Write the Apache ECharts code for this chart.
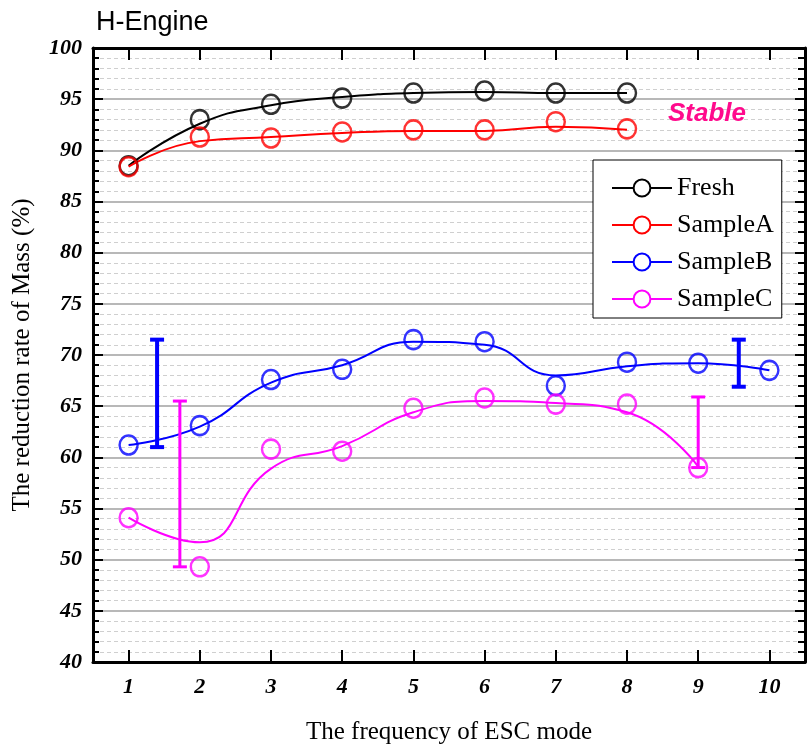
<!DOCTYPE html>
<html>
<head>
<meta charset="utf-8">
<script src="https://cdn.jsdelivr.net/npm/echarts@6/dist/echarts.min.js"></script>
<style>
  html, body { margin: 0; padding: 0; background: #fff; }
  #chart { width: 807px; height: 751px; }
</style>
</head>
<body>
<div id="chart"></div>
<script>
// measured points
const xTicks = [1, 2, 3, 4, 5, 6, 7, 8, 9, 10];
const freshY = [88.5, 93.0, 94.5, 95.1, 95.6, 95.8, 95.6, 95.6];
const sampleAY = [88.4, 91.3, 91.2, 91.8, 92.0, 92.0, 92.8, 92.1];
const sampleBY = [61.2, 63.1, 67.6, 68.6, 71.5, 71.3, 67.0, 69.3, 69.2, 68.5];
const sampleCY = [54.1, 49.3, 60.8, 60.6, 64.8, 65.8, 65.2, 65.2, 59.0];

// fitted curves (at each x)
const freshFit = [88.5, 92.6, 94.4, 95.2, 95.6, 95.7, 95.6, 95.6];
const sampleAFit = [88.4, 90.9, 91.3, 91.7, 91.9, 91.9, 92.3, 92.0];
const sampleBFit = [61.2, 63.0, 67.3, 69.0, 71.3, 71.0, 68.0, 68.9, 69.2, 68.5];
const sampleCFit = [54.1, 51.7, 58.9, 61.1, 64.4, 65.5, 65.3, 64.4, 59.1];

// error bars
const sampleBErrX = [1.4, 9.57];
const sampleBErrLow = [61.0, 66.9];
const sampleBErrHigh = [71.5, 71.5];
const sampleCErrX = [1.72, 9.0];
const sampleCErrLow = [49.3, 59.0];
const sampleCErrHigh = [65.5, 65.9];

const yTickLabels = [40, 45, 50, 55, 60, 65, 70, 75, 80, 85, 90, 95, 100];

const pairs = (ys) => ys.map((v, i) => [xTicks[i], v]);

const chart = echarts.init(document.getElementById('chart'));

function fitSeries(name, color, fit) {
  return {
    name: name,
    type: 'line',
    data: pairs(fit),
    smooth: 0.5,
    symbol: 'emptyCircle',
    symbolSize: 18,
    showSymbol: false,
    lineStyle: { color: color, width: 2 },
    itemStyle: { color: color, borderWidth: 2 },
    z: 3
  };
}

function pointSeries(name, color, ys) {
  return {
    name: name,
    type: 'scatter',
    data: pairs(ys),
    symbol: 'circle',
    symbolSize: [18, 19],
    itemStyle: { color: 'rgba(0,0,0,0)', borderColor: color, borderWidth: 2.5 },
    z: 4
  };
}

function errSeries(name, color, xs, lows, highs, width) {
  return {
    name: name,
    type: 'custom',
    data: xs.map((x, i) => [x, lows[i], highs[i]]),
    renderItem: function (params, api) {
      const lo = api.coord([api.value(0), api.value(1)]);
      const hi = api.coord([api.value(0), api.value(2)]);
      const hw = 7;
      const style = { stroke: color, lineWidth: width };
      return {
        type: 'group',
        children: [
          { type: 'line', shape: { x1: lo[0], y1: lo[1], x2: hi[0], y2: hi[1] }, style: style },
          { type: 'line', shape: { x1: lo[0] - hw, y1: lo[1], x2: lo[0] + hw, y2: lo[1] }, style: style },
          { type: 'line', shape: { x1: hi[0] - hw, y1: hi[1], x2: hi[0] + hw, y2: hi[1] }, style: style }
        ]
      };
    },
    z: 5
  };
}

const serifAxisLabel = {
  fontFamily: 'Liberation Serif',
  fontWeight: 'bold',
  fontStyle: 'italic',
  fontSize: 22,
  color: '#000'
};

chart.setOption({
  animation: false,
  backgroundColor: '#fff',
  title: {
    text: 'H-Engine',
    left: 91,
    top: 4,
    textStyle: { fontFamily: 'Liberation Sans', fontWeight: 'normal', fontSize: 27, color: '#000' }
  },
  graphic: [{
    type: 'text',
    left: 668,
    top: 101,
    style: {
      text: 'Stable',
      fontFamily: 'Liberation Sans',
      fontWeight: 'bold',
      fontStyle: 'italic',
      fontSize: 26,
      fill: '#ff0a8c'
    },
    z: 10
  }],
  legend: {
    data: ['Fresh', 'SampleA', 'SampleB', 'SampleC'],
    orient: 'vertical',
    left: 593,
    top: 160,
    padding: [15, 8, 6, 18],
    itemWidth: 60,
    itemHeight: 21,
    itemGap: 11,
    backgroundColor: '#fff',
    borderColor: '#000',
    borderWidth: 1,
    borderRadius: 0,
    textStyle: { fontFamily: 'Liberation Serif', fontSize: 26, color: '#000', padding: [0, 0, 0, 0] }
  },
  grid: { left: 93, right: 2, top: 48, bottom: 89 },
  xAxis: [{
    type: 'value',
    min: 0.5,
    max: 10.5,
    position: 'bottom',
    name: 'The frequency of ESC mode',
    nameLocation: 'middle',
    nameGap: 58,
    nameTextStyle: { fontFamily: 'Liberation Serif', fontSize: 25, color: '#000' },
    axisLine: { show: true, lineStyle: { color: '#000', width: 3 } },
    axisTick: { show: true, inside: true, length: 12, lineStyle: { color: '#000', width: 2 }, customValues: xTicks },
    axisLabel: Object.assign({ margin: 14, customValues: xTicks }, serifAxisLabel),
    splitLine: { show: false }
  }, {
    type: 'value',
    min: 0.5,
    max: 10.5,
    position: 'top',
    axisLine: { show: true, lineStyle: { color: '#000', width: 3 } },
    axisTick: { show: true, inside: true, length: 12, lineStyle: { color: '#000', width: 2 }, customValues: xTicks },
    axisLabel: { show: false },
    splitLine: { show: false }
  }],
  yAxis: [{
    type: 'value',
    min: 40,
    max: 100,
    interval: 5,
    position: 'left',
    name: 'The reduction rate of Mass (%)',
    nameLocation: 'middle',
    nameGap: 58,
    nameTextStyle: { fontFamily: 'Liberation Serif', fontSize: 25, color: '#000' },
    axisLine: { show: true, lineStyle: { color: '#000', width: 3 } },
    axisTick: { show: true, inside: true, length: 10, lineStyle: { color: '#000', width: 2 } },
    minorTick: { show: true, splitNumber: 5, length: 6, lineStyle: { color: '#000', width: 2 } },
    axisLabel: Object.assign({
      margin: 11,
      formatter: (v) => (yTickLabels.indexOf(v) >= 0 ? String(v) : '')
    }, serifAxisLabel),
    splitLine: { show: true, lineStyle: { color: '#a0a0a0', width: 1.5 } },
    minorSplitLine: { show: true, lineStyle: { color: '#cfcfcf', width: 1, type: [4, 3] } }
  }, {
    type: 'value',
    min: 40,
    max: 100,
    interval: 5,
    position: 'right',
    axisLine: { show: true, lineStyle: { color: '#000', width: 3 } },
    axisTick: { show: true, inside: true, length: 10, lineStyle: { color: '#000', width: 2 } },
    minorTick: { show: true, splitNumber: 5, length: 7, lineStyle: { color: '#000', width: 2 } },
    axisLabel: { show: false },
    splitLine: { show: false }
  }],
  series: [
    fitSeries('Fresh', '#000000', freshFit),
    fitSeries('SampleA', '#ff0000', sampleAFit),
    fitSeries('SampleB', '#0000ff', sampleBFit),
    fitSeries('SampleC', '#ff00ff', sampleCFit),
    pointSeries('Fresh', '#000000', freshY),
    pointSeries('SampleA', '#ff0000', sampleAY),
    pointSeries('SampleB', '#0000ff', sampleBY),
    pointSeries('SampleC', '#ff00ff', sampleCY),
    errSeries('SampleB', '#0000ff', sampleBErrX, sampleBErrLow, sampleBErrHigh, 4),
    errSeries('SampleC', '#ff00ff', sampleCErrX, sampleCErrLow, sampleCErrHigh, 3)
  ]
});
</script>
</body>
</html>
